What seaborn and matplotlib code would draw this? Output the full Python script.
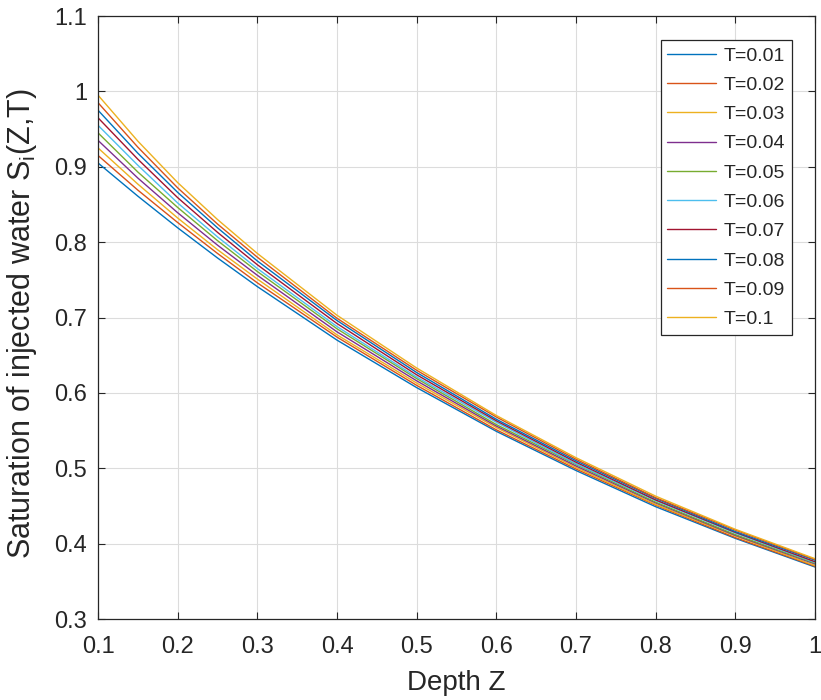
import numpy as np
import pandas as pd
import matplotlib
matplotlib.use("Agg")
import matplotlib.pyplot as plt
import seaborn as sns

# depth positions where the curves were read
depth = [0.1, 0.15, 0.2, 0.25, 0.3, 0.4, 0.5, 0.6, 0.7, 0.8, 0.9, 1.0]

# saturation, one list per time value
s_t001 = [0.905, 0.861, 0.819, 0.779, 0.741, 0.670, 0.607, 0.549, 0.497, 0.449, 0.407, 0.369]
s_t002 = [0.915, 0.869, 0.826, 0.785, 0.746, 0.674, 0.610, 0.551, 0.499, 0.451, 0.408, 0.370]
s_t003 = [0.925, 0.877, 0.832, 0.790, 0.751, 0.677, 0.613, 0.554, 0.501, 0.452, 0.410, 0.371]
s_t004 = [0.935, 0.885, 0.839, 0.796, 0.756, 0.681, 0.616, 0.556, 0.503, 0.454, 0.411, 0.373]
s_t005 = [0.945, 0.893, 0.846, 0.802, 0.761, 0.685, 0.619, 0.558, 0.505, 0.455, 0.412, 0.374]
s_t006 = [0.955, 0.902, 0.852, 0.807, 0.765, 0.688, 0.621, 0.561, 0.506, 0.457, 0.414, 0.375]
s_t007 = [0.965, 0.910, 0.859, 0.813, 0.770, 0.692, 0.624, 0.563, 0.508, 0.458, 0.415, 0.376]
s_t008 = [0.975, 0.918, 0.866, 0.819, 0.775, 0.696, 0.627, 0.565, 0.510, 0.460, 0.416, 0.378]
s_t009 = [0.985, 0.926, 0.872, 0.824, 0.780, 0.699, 0.630, 0.568, 0.512, 0.461, 0.418, 0.379]
s_t010 = [0.995, 0.934, 0.879, 0.830, 0.785, 0.703, 0.633, 0.570, 0.514, 0.463, 0.419, 0.380]

labels = ["T=0.01", "T=0.02", "T=0.03", "T=0.04", "T=0.05",
          "T=0.06", "T=0.07", "T=0.08", "T=0.09", "T=0.1"]
series = [s_t001, s_t002, s_t003, s_t004, s_t005,
          s_t006, s_t007, s_t008, s_t009, s_t010]

x_ticks = [0.1, 0.2, 0.3, 0.4, 0.5, 0.6, 0.7, 0.8, 0.9, 1.0]
x_ticklabels = ["0.1", "0.2", "0.3", "0.4", "0.5", "0.6", "0.7", "0.8", "0.9", "1"]
y_ticks = [0.3, 0.4, 0.5, 0.6, 0.7, 0.8, 0.9, 1.0, 1.1]
y_ticklabels = ["0.3", "0.4", "0.5", "0.6", "0.7", "0.8", "0.9", "1", "1.1"]

# matlab default line colours (cycle of 7)
matlab_colors = ["#0072BD", "#D95319", "#EDB120", "#7E2F8E", "#77AC30",
                 "#4DBEEE", "#A2142F"]
palette = [matlab_colors[i % 7] for i in range(len(labels))]

# long-form table for seaborn
rows = []
for lab, vals in zip(labels, series):
    for z, s in zip(depth, vals):
        rows.append({"Z": z, "S": s, "T": lab})
df = pd.DataFrame(rows)

sns.set_theme(style="whitegrid")
plt.rcParams['font.family'] = ['Liberation Sans', 'DejaVu Sans']
plt.rcParams['mathtext.default'] = 'regular'

dark = "#262626"

fig, ax = plt.subplots(figsize=(8.21, 7.00), dpi=100)
fig.subplots_adjust(left=0.1194, right=0.9927, bottom=0.1157, top=0.9771)

sns.lineplot(data=df, x="Z", y="S", hue="T", hue_order=labels,
             palette=palette, linewidth=1.0, ax=ax, legend=False)

# handles for the legend
for lab, col in zip(labels, palette):
    ax.plot([], [], color=col, linewidth=1.0, label=lab)

ax.set_xlim(0.1, 1.0)
ax.set_ylim(0.3, 1.1)
ax.set_xticks(x_ticks)
ax.set_xticklabels(x_ticklabels)
ax.set_yticks(y_ticks)
ax.set_yticklabels(y_ticklabels)

ax.set_facecolor("white")
ax.grid(True, color="#dcdcdc", linewidth=0.8)
for side in ["left", "right", "top", "bottom"]:
    ax.spines[side].set_visible(True)
    ax.spines[side].set_color(dark)
    ax.spines[side].set_linewidth(0.9)

ax.tick_params(axis="both", which="both", direction="in", length=5, width=0.8,
               colors=dark, labelsize=17, top=True, right=True,
               bottom=True, left=True)
ax.tick_params(axis="x", pad=12)
ax.tick_params(axis="y", pad=8)
for lbl in ax.get_xticklabels() + ax.get_yticklabels():
    lbl.set_color(dark)

ax.set_xlabel("Depth Z", fontsize=20, color=dark)
ax.set_ylabel("Saturation of injected water S$_{i}$(Z,T)", fontsize=22,
              color=dark)
ax.xaxis.label.set_va("center")
ax.yaxis.label.set_va("center")
ax.xaxis.set_label_coords(0.5, -0.106)
ax.yaxis.set_label_coords(-0.106, 0.49)

leg = ax.legend(loc="upper right", bbox_to_anchor=(0.968, 0.960),
                borderaxespad=0, fontsize=14, frameon=True, fancybox=False,
                framealpha=1, edgecolor=dark, handlelength=2.5,
                labelspacing=0.6, borderpad=0.35, handletextpad=0.4)
leg.get_frame().set_linewidth(0.9)
for t in leg.get_texts():
    t.set_color(dark)

fig.savefig("out.png", dpi=100)
